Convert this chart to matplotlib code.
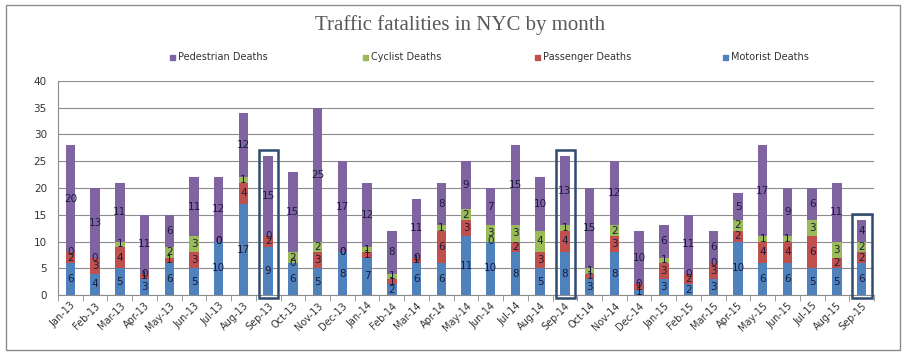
import numpy as np
import matplotlib
matplotlib.use("Agg")
import matplotlib.pyplot as plt
from matplotlib.patches import Rectangle

# monthly values
months = ["Jan-13", "Feb-13", "Mar-13", "Apr-13", "May-13", "Jun-13", "Jul-13", "Aug-13",
          "Sep-13", "Oct-13", "Nov-13", "Dec-13", "Jan-14", "Feb-14", "Mar-14", "Apr-14",
          "May-14", "Jun-14", "Jul-14", "Aug-14", "Sep-14", "Oct-14", "Nov-14", "Dec-14",
          "Jan-15", "Feb-15", "Mar-15", "Apr-15", "May-15", "Jun-15", "Jul-15", "Aug-15",
          "Sep-15"]
motorist = [6, 4, 5, 3, 6, 5, 10, 17, 9, 6, 5, 8, 7, 2, 6, 6, 11, 10, 8, 5, 8, 3, 8, 1,
            3, 2, 3, 10, 6, 6, 5, 5, 6]
passenger = [2, 3, 4, 1, 1, 3, 0, 4, 2, 0, 3, 0, 1, 1, 1, 6, 3, 0, 2, 3, 4, 1, 3, 1,
             3, 2, 3, 2, 4, 4, 6, 2, 2]
cyclist = [0, 0, 1, 0, 2, 3, 0, 1, 0, 2, 2, 0, 1, 1, 0, 1, 2, 3, 3, 4, 1, 1, 2, 0,
           1, 0, 0, 2, 1, 1, 3, 3, 2]
pedestrian = [20, 13, 11, 11, 6, 11, 12, 12, 15, 15, 25, 17, 12, 8, 11, 8, 9, 7, 15, 10, 13, 15, 12, 10,
              6, 11, 6, 5, 17, 9, 6, 11, 4]
highlight = ["Sep-13", "Sep-14", "Sep-15"]

series = [("Motorist Deaths", motorist, "#4F81BD"),
          ("Passenger Deaths", passenger, "#C0504D"),
          ("Cyclist Deaths", cyclist, "#9BBB59"),
          ("Pedestrian Deaths", pedestrian, "#8064A2")]

fig = plt.figure(figsize=(9.02, 3.54), dpi=100)
ax = fig.add_axes([58 / 902, 1 - 295 / 354, (874 - 58) / 902, (295 - 81) / 354])

x = np.arange(len(months))
bottom = np.zeros(len(months))
for name, vals, col in series:
    vals = np.array(vals)
    ax.bar(x, vals, 0.38, bottom=bottom, color=col, zorder=3)
    for i, v in enumerate(vals):
        ax.text(x[i], bottom[i] + v / 2, str(v), ha="center", va="center",
                fontsize=7.5, color="#1c1c3c", zorder=5, family="DejaVu Sans")
    bottom = bottom + vals

# boxes around the September bars
for m in highlight:
    i = months.index(m)
    ax.add_patch(Rectangle((i - 0.38, -0.5), 0.78, bottom[i] + 1.6, fill=False,
                           edgecolor="#2F4B6E", linewidth=1.8, zorder=6, clip_on=False))

ax.set_xlim(-0.5, len(months) - 0.5)
ax.set_ylim(0, 40)
ax.set_yticks(range(0, 41, 5))
ax.yaxis.grid(True, color="#8c8c8c", linewidth=0.8, zorder=0)
ax.set_xticks(x)
ax.set_xticklabels(months, rotation=45, ha="right", rotation_mode="anchor", fontsize=7)
ax.set_xticks(np.arange(-0.5, len(months), 1), minor=True)
ax.tick_params(axis="x", which="major", length=0, pad=4, colors="#333333")
ax.tick_params(axis="x", which="minor", length=4, color="#8c8c8c")
ax.tick_params(axis="y", length=0, labelsize=7.5, colors="#333333", pad=8)
for s in ["top", "right"]:
    ax.spines[s].set_visible(False)
ax.spines["left"].set_color("#8c8c8c")
ax.spines["bottom"].set_color("#8c8c8c")

fig.text(460 / 902, 1 - 25 / 354, "Traffic fatalities in NYC by month", ha="center", va="center",
         fontsize=15, color="#595959", family="Liberation Serif")

# legend laid out like the Excel one
leg = [("Pedestrian Deaths", "#8064A2", 170), ("Cyclist Deaths", "#9BBB59", 363),
       ("Passenger Deaths", "#C0504D", 535), ("Motorist Deaths", "#4F81BD", 723)]
for name, col, px in leg:
    fig.add_artist(Rectangle((px / 902, 1 - 60 / 354), 5 / 902, 5 / 354, color=col,
                             transform=fig.transFigure))
    fig.text((px + 8) / 902, 1 - 57.5 / 354, name, ha="left", va="center", fontsize=7,
             color="#333333")

# outer chart border
fig.add_artist(Rectangle((6 / 902, 4 / 354), 894 / 902, 345 / 354, fill=False,
                         edgecolor="#8c8c8c", linewidth=1, transform=fig.transFigure))

fig.savefig("out.png", dpi=100)
